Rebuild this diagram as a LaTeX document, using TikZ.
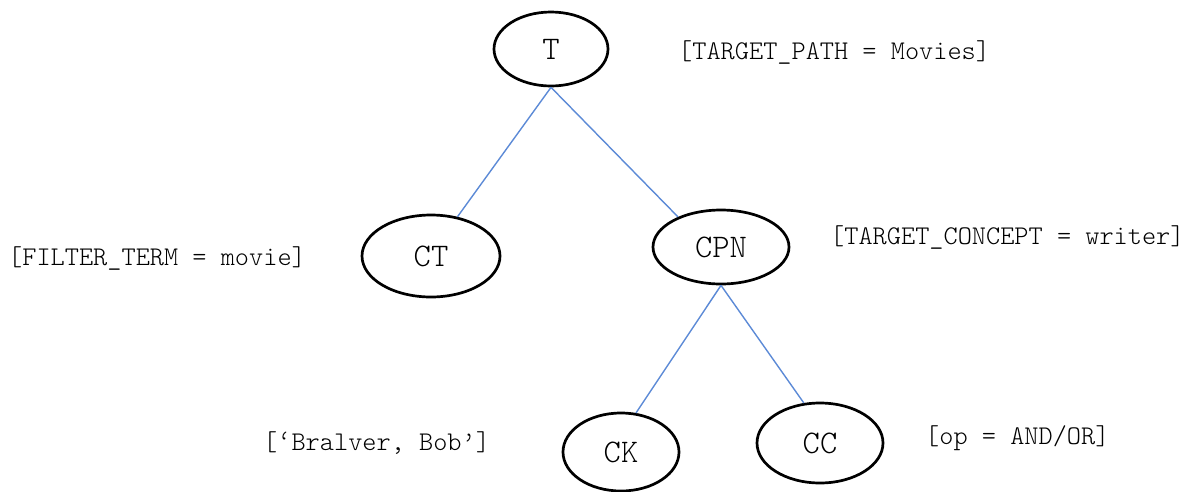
\documentclass[tikz,border=0pt]{standalone}
\usepackage{fontspec}
\newfontfamily\cour{Latin Modern Mono Light}
\usetikzlibrary{shapes.geometric}
\definecolor{edgeblue}{RGB}{92,138,214}
\tikzset{
  treenode/.style={ellipse, draw=black, line width=2.7pt, inner sep=0pt,
    font=\cour\fontsize{33}{36}\selectfont},
  annot/.style={anchor=west, inner sep=0pt, font=\cour\fontsize{27}{30}\selectfont},
  link/.style={draw=edgeblue, line width=1.4pt}
}
\begin{document}
\begin{tikzpicture}[x=1pt, y=-1pt]
\useasboundingbox (0,0) rectangle (1199,491);
% tree nodes
\node[treenode, minimum width=114pt, minimum height=74pt] (T) at (551,49) {T};
\node[treenode, minimum width=138pt, minimum height=82pt] (CT) at (431,256) {CT};
\node[treenode, minimum width=136pt, minimum height=74pt] (CPN) at (721,247) {CPN};
\node[treenode, minimum width=116pt, minimum height=78pt] (CK) at (621,452) {CK};
\node[treenode, minimum width=126pt, minimum height=80pt] (CC) at (820,443) {CC};
% annotations
\node[annot] (aT) at (678,53) {[TARGET\_PATH = Movies]};
\node[annot] (aCT) at (8,258) {[FILTER\_TERM = movie]};
\node[annot] (aCPN) at (830,237) {[TARGET\_CONCEPT = writer]};
\node[annot] (aCK) at (263,443) {[‘Bralver, Bob’]};
\node[annot] (aCC) at (925,438) {[op = AND/OR]};
% edges
\draw[link] (T.south) -- (CT.56);
\draw[link] (T.south) -- (CPN.145);
\draw[link] (CPN.south) -- (CK.69);
\draw[link] (CPN.south) -- (CC.112);
\end{tikzpicture}
\end{document}
